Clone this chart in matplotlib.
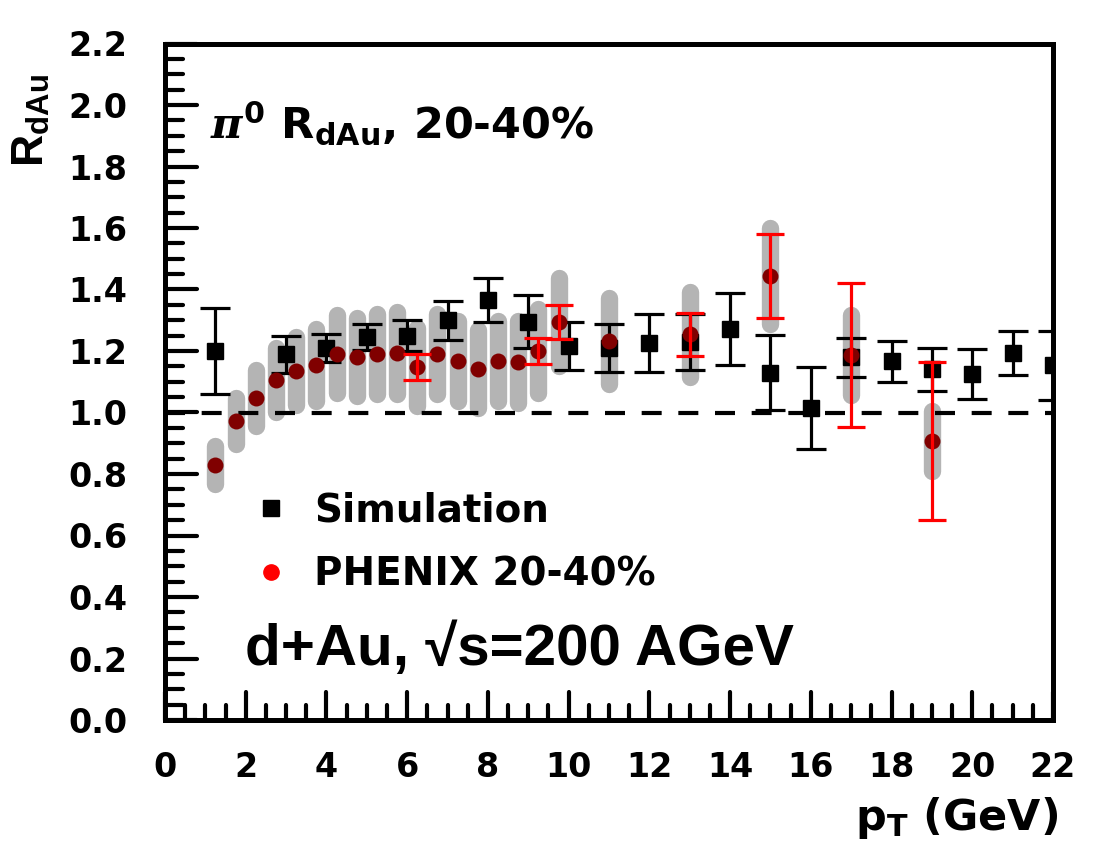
import matplotlib
matplotlib.use("Agg")
import numpy as np
import matplotlib.pyplot as plt
from matplotlib.lines import Line2D
from matplotlib.markers import MarkerStyle
from matplotlib.ticker import MultipleLocator

plt.rcParams['font.family'] = ['DejaVu Sans']
plt.rcParams['font.weight'] = 'bold'
plt.rcParams['mathtext.fontset'] = 'custom'
plt.rcParams['mathtext.rm'] = 'DejaVu Sans:bold'
plt.rcParams['mathtext.bf'] = 'DejaVu Sans:bold'
plt.rcParams['mathtext.sf'] = 'Liberation Sans:bold'
plt.rcParams['mathtext.it'] = 'DejaVu Serif:italic'

# ---------------- data ----------------
# Simulation points
sim_pt = [1.25, 3, 4, 5, 6, 7, 8, 9, 10, 11, 12, 13, 14, 15, 16, 17, 18, 19, 20, 21, 22]
sim_r = [1.20, 1.19, 1.21, 1.245, 1.25, 1.30, 1.365, 1.295, 1.215, 1.21, 1.225, 1.23,
         1.27, 1.13, 1.015, 1.18, 1.167, 1.14, 1.125, 1.193, 1.154]
sim_err = [0.14, 0.06, 0.045, 0.043, 0.05, 0.064, 0.072, 0.086, 0.078, 0.078, 0.094, 0.091,
           0.117, 0.122, 0.133, 0.063, 0.067, 0.07, 0.081, 0.072, 0.112]

# PHENIX 20-40% points
phx_pt = [1.25, 1.75, 2.25, 2.75, 3.25, 3.75, 4.25, 4.75, 5.25, 5.75, 6.25, 6.75, 7.25,
          7.75, 8.25, 8.75, 9.25, 9.75, 11, 13, 15, 17, 19]
phx_r = [0.829, 0.973, 1.047, 1.106, 1.135, 1.154, 1.19, 1.18, 1.19, 1.193, 1.148, 1.19,
         1.167, 1.141, 1.167, 1.164, 1.20, 1.294, 1.233, 1.255, 1.444, 1.187, 0.907]
phx_stat = [0, 0, 0, 0, 0, 0, 0, 0, 0, 0, 0.042, 0, 0, 0, 0, 0, 0.042, 0.054, 0,
            0.07, 0.138, 0.234, 0.257]
phx_sys = [0.063, 0.074, 0.092, 0.105, 0.112, 0.118, 0.126, 0.126, 0.130, 0.133, 0.128,
           0.130, 0.130, 0.126, 0.131, 0.133, 0.136, 0.144, 0.139, 0.138, 0.157, 0.131, 0.097]

W, H = 1100, 850
fig = plt.figure(figsize=(W / 100, H / 100), dpi=100)
ax = fig.add_axes([165 / W, 1 - 720 / H, (1053 - 165) / W, (720 - 43.5) / H])

# systematic bands
lo = np.array(phx_r) - np.array(phx_sys)
hi = np.array(phx_r) + np.array(phx_sys)
ax.vlines(phx_pt, lo, hi, colors='#b4b4b4', linewidth=12.5, capstyle='round', zorder=1)

ax.axhline(1.0, color='k', lw=3, dashes=(4.8, 4.0), zorder=2)

ax.errorbar(sim_pt, sim_r, yerr=sim_err, fmt='s', color='k', ms=11.5, elinewidth=2.3,
            capsize=10.5, capthick=2.3, zorder=3)

ax.plot(phx_pt, phx_r, 'o', color='#800000', ms=11.5, mec='none', zorder=4)

st = np.array(phx_stat)
m = st > 0
ax.errorbar(np.array(phx_pt)[m], np.array(phx_r)[m], yerr=st[m], fmt='none', ecolor='red',
            elinewidth=2.3, capsize=10, capthick=2.3, zorder=5)

ax.set_xlim(0, 22)
ax.set_ylim(0, 2.2)
ax.xaxis.set_major_locator(MultipleLocator(2))
ax.xaxis.set_minor_locator(MultipleLocator(0.5))
ax.yaxis.set_major_locator(MultipleLocator(0.2))
ax.yaxis.set_minor_locator(MultipleLocator(0.05))
ax.yaxis.set_major_formatter(plt.FormatStrFormatter('%.1f'))
ax.tick_params(axis='both', which='both', direction='in', top=False, right=False, width=3.0)
ax.tick_params(axis='y', which='major', length=23, labelsize=24, pad=27)
ax.tick_params(axis='y', which='minor', length=13)
ax.tick_params(axis='x', which='major', length=20, labelsize=24, pad=22)
ax.tick_params(axis='x', which='minor', length=11)
for s in ax.spines.values():
    s.set_linewidth(3.6)

# rounded tick ends
for axis in (ax.xaxis, ax.yaxis):
    for t in axis.get_major_ticks() + axis.get_minor_ticks():
        t.tick1line.set_marker(MarkerStyle(t.tick1line.get_marker(), capstyle='round'))

handles = [Line2D([], [], marker='s', color='k', ls='none', ms=11),
           Line2D([], [], marker='o', color='red', ls='none', ms=11)]
ax.legend(handles, ['Simulation', 'PHENIX 20-40%'], loc='upper left',
          bbox_to_anchor=(252 / W, 1 - 492 / H), bbox_transform=fig.transFigure,
          frameon=False, fontsize=28, handlelength=1.0, handletextpad=0.6,
          borderpad=0, borderaxespad=0, labelspacing=0.66)

fig.text(210 / W, 1 - 138 / H, r'$\pi^{\mathrm{0}}$ R$_{\mathrm{dAu}}$, 20-40%', fontsize=31,
         ha='left', va='baseline')
fig.text(245 / W, 1 - 665 / H, 'd+Au, \u221as=200 AGeV', fontsize=42,
         family=['Liberation Sans', 'DejaVu Sans'], ha='left', va='baseline')
fig.text(31 / W, 1 - 121 / H, r'R$_{\mathsf{dAu}}$', fontsize=32, rotation=90,
         family=['Liberation Sans', 'DejaVu Sans'], ha='center', va='center')
fig.text(1058 / W, 1 - 830 / H, r'p$_{\mathrm{T}}$ (GeV)', fontsize=31,
         ha='right', va='baseline')

fig.savefig('out.png', dpi=100)
